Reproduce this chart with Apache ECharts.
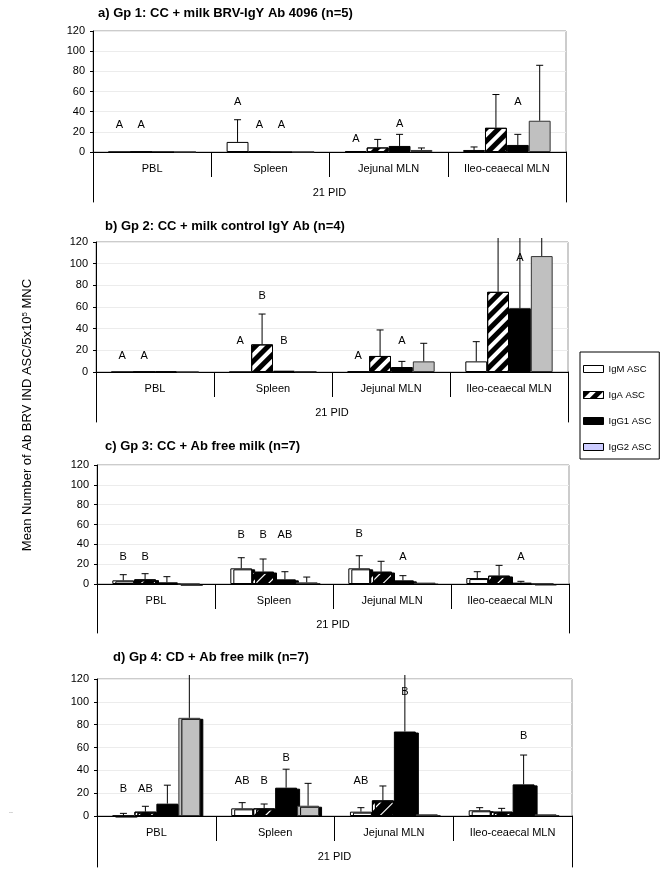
<!DOCTYPE html>
<html><head><meta charset="utf-8">
<script src="https://cdn.jsdelivr.net/npm/echarts@6/dist/echarts.min.js"></script>
<style>html,body{margin:0;padding:0;background:#fff}#c{width:665px;height:876px}</style>
</head><body><div id="c"></div><script>
// ---------- data ----------
const categories = ['PBL', 'Spleen', 'Jejunal MLN', 'Ileo-ceaecal MLN'];
const seriesNames = ['IgM ASC', 'IgA ASC', 'IgG1 ASC', 'IgG2 ASC'];
const yMin = 0, yMax = 120, yInterval = 20;
const xGroupLabel = '21 PID';
const yTitle = 'Mean Number of Ab BRV IND ASC/5x10{sup|5} MNC';

// a) Gp 1
const titleA = 'a) Gp 1: CC + milk BRV-IgY Ab 4096 (n=5)';
const gp1IgM  = [0, 10, 1, 2];
const gp1IgA  = [0, 0, 4.5, 24];
const gp1IgG1 = [0, 0, 6, 7];
const gp1IgG2 = [0, 0, 2, 31];
// mean + SD (upper end of error bar); null = none; >120 = off scale
const gp1IgMErr  = [null, 32, null, 5];
const gp1IgAErr  = [null, null, 12.5, 57];
const gp1IgG1Err = [null, null, 17.5, 17.5];
const gp1IgG2Err = [null, null, 4, 86];
// [category, bar, height, letter]
const gp1Letters = [[0,0,27,'A'],[0,1,27,'A'],[1,0,50,'A'],[1,1,27,'A'],[1,2,27,'A'],[2,0,12.5,'A'],[2,2,27.5,'A'],[3,2,50,'A']];

// b) Gp 2
const titleB = 'b) Gp 2: CC + milk control IgY Ab (n=4)';
const gp2IgM  = [0, 0, 0.5, 9.8];
const gp2IgA  = [0, 25.5, 14.8, 74];
const gp2IgG1 = [0.5, 1.2, 4.6, 58.8];
const gp2IgG2 = [0, 0.5, 9.8, 107];
const gp2IgMErr  = [null, null, null, 28];
const gp2IgAErr  = [null, 53.5, 38.8, 140];
const gp2IgG1Err = [null, null, 9.8, 140];
const gp2IgG2Err = [null, null, 26.5, 140];
const gp2Letters = [[0,0,14.8,'A'],[0,1,14.8,'A'],[1,0,28.6,'A'],[1,1,70,'B'],[1,2,28.6,'B'],[2,0,14.8,'A'],[2,2,29,'A'],[3,2,105,'A']];

// c) Gp 3
const titleC = 'c) Gp 3: CC + Ab free milk (n=7)';
const gp3IgM  = [3.7, 15.8, 15.8, 6];
const gp3IgA  = [4.7, 12.4, 12.4, 8.4];
const gp3IgG1 = [1.7, 4.7, 3.7, 1.4];
const gp3IgG2 = [0, 1.7, 1.4, 0.5];
const gp3IgMErr  = [9.4, 26.5, 28.5, 12.4];
const gp3IgAErr  = [10.4, 25.2, 22.9, 18.8];
const gp3IgG1Err = [7.4, 12.4, 8.4, 2.7];
const gp3IgG2Err = [null, 7, null, null];
const gp3Letters = [[0,0,27,'B'],[0,1,27,'B'],[1,0,49.7,'B'],[1,1,49.7,'B'],[1,2,49.7,'AB'],[2,0,50,'B'],[2,2,27,'A'],[3,2,27,'A']];

// d) Gp 4
const titleD = 'd) Gp 4: CD + Ab free milk (n=7)';
const gp4IgM  = [0.3, 6.7, 3.8, 5];
const gp4IgA  = [3.8, 6.7, 13.7, 3.8];
const gp4IgG1 = [10.8, 24.8, 74, 27.7];
const gp4IgG2 = [86, 9, 1.5, 1.5];
const gp4IgMErr  = [2.3, 11.7, 7.3, 7.3];
const gp4IgAErr  = [8.5, 10.5, 26.3, 6.7];
const gp4IgG1Err = [27, 41, 140, 53.4];
const gp4IgG2Err = [140, 28.6, null, null];
const gp4Letters = [[0,0,24,'B'],[0,1,24,'AB'],[1,0,30.4,'AB'],[1,1,30.4,'B'],[1,2,50.5,'B'],[2,0,30.6,'AB'],[2,2,109,'B'],[3,2,69.8,'B']];

// ---------- layout / style ----------
const FONT = 'Liberation Sans, Arial, sans-serif';
const CAT_GAP = 0.26;
const panels = [
  {title: titleA, vals: [gp1IgM, gp1IgA, gp1IgG1, gp1IgG2], errs: [gp1IgMErr, gp1IgAErr, gp1IgG1Err, gp1IgG2Err], letters: gp1Letters,
   box: {left: 93, top: 31, width: 473, height: 121, ext: 50}, tpos: {left: 98, top: 7}, shadow: false},
  {title: titleB, vals: [gp2IgM, gp2IgA, gp2IgG1, gp2IgG2], errs: [gp2IgMErr, gp2IgAErr, gp2IgG1Err, gp2IgG2Err], letters: gp2Letters,
   box: {left: 96, top: 242, width: 472, height: 130, ext: 50}, tpos: {left: 105, top: 220}, shadow: false},
  {title: titleC, vals: [gp3IgM, gp3IgA, gp3IgG1, gp3IgG2], errs: [gp3IgMErr, gp3IgAErr, gp3IgG1Err, gp3IgG2Err], letters: gp3Letters,
   box: {left: 97, top: 465, width: 472, height: 119, ext: 49}, tpos: {left: 105, top: 440}, shadow: true},
  {title: titleD, vals: [gp4IgM, gp4IgA, gp4IgG1, gp4IgG2], errs: [gp4IgMErr, gp4IgAErr, gp4IgG1Err, gp4IgG2Err], letters: gp4Letters,
   box: {left: 97, top: 679, width: 475, height: 137, ext: 51}, tpos: {left: 113, top: 651}, shadow: true}
];

const barStyles = [
  {color: '#fff', borderColor: '#000', borderWidth: 1},
  {color: '#fff', borderColor: '#000', borderWidth: 1,
   decal: {symbol: 'rect', symbolSize: 1, color: '#000', dashArrayX: [1, 0], dashArrayY: [5, 4], rotation: -Math.PI / 4}},
  {color: '#000', borderColor: '#000', borderWidth: 1},
  {color: '#c0c0c0', borderColor: '#333', borderWidth: 1}
];

function slotX(api, c, s) {
  const p0 = api.coord([c, 0]);
  const bw = api.coord([1, 0])[0] - api.coord([0, 0])[0];
  const inner = bw * (1 - CAT_GAP);
  return p0[0] - inner / 2 + (s + 0.5) * inner / 4;
}
function renderErr(params, api) {
  const c = api.value(0), s = api.value(1), m = api.value(2), t = api.value(3);
  const x = slotX(api, c, s);
  const yb = api.coord([c, m])[1];
  const off = t > yMax;
  const yt = off ? api.coord([c, yMax])[1] - 4 : api.coord([c, t])[1];
  const ch = [{type: 'line', shape: {x1: x, y1: yb, x2: x, y2: yt}, style: {stroke: '#000', lineWidth: 1}}];
  if (!off) ch.push({type: 'line', shape: {x1: x - 3.5, y1: yt, x2: x + 3.5, y2: yt}, style: {stroke: '#000', lineWidth: 1}});
  return {type: 'group', children: ch};
}

const grid = [], xAxis = [], yAxis = [], series = [], title = [];
panels.forEach((p, i) => {
  const b = p.box;
  grid[i] = {left: b.left, top: b.top, width: b.width, height: b.height, show: true, borderColor: '#999', borderWidth: 1, backgroundColor: 'transparent', containLabel: false};
  grid[4 + i] = {left: b.left, top: b.top + b.height, width: b.width, height: b.ext, show: false, containLabel: false};
  title.push({text: p.title, left: p.tpos.left, top: p.tpos.top, padding: 0,
    textStyle: {fontFamily: FONT, fontSize: 13, fontWeight: 'bold', color: '#000'}});
  xAxis[i] = {type: 'category', gridIndex: i, data: categories, boundaryGap: true,
    axisLine: {show: true, lineStyle: {color: '#000', width: 1}},
    axisTick: {show: true, interval: 0, length: 25, lineStyle: {color: '#000'}},
    axisLabel: {show: true, interval: 0, margin: 11, fontFamily: FONT, fontSize: 11, color: '#000'},
    name: xGroupLabel, nameLocation: 'middle', nameGap: 35,
    nameTextStyle: {fontFamily: FONT, fontSize: 11, color: '#000'},
    splitLine: {show: false}};
  xAxis[4 + i] = {type: 'category', gridIndex: 4 + i, data: [xGroupLabel], show: false};
  yAxis[i] = {type: 'value', gridIndex: i, min: yMin, max: yMax, interval: yInterval,
    axisLine: {show: true, lineStyle: {color: '#000', width: 1}},
    axisTick: {show: true, length: 3, lineStyle: {color: '#000'}},
    axisLabel: {margin: 8, fontFamily: FONT, fontSize: 11, color: '#000'},
    splitLine: {show: true, lineStyle: {color: '#ececec', width: 1}}};
  yAxis[4 + 2 * i] = {type: 'value', gridIndex: 4 + i, position: 'left', min: 0, max: 1,
    axisLine: {show: true, lineStyle: {color: '#000'}}, axisTick: {show: false}, axisLabel: {show: false}, splitLine: {show: false}};
  yAxis[5 + 2 * i] = {type: 'value', gridIndex: 4 + i, position: 'right', min: 0, max: 1,
    axisLine: {show: true, lineStyle: {color: '#000'}}, axisTick: {show: false}, axisLabel: {show: false}, splitLine: {show: false}};

  for (let s = 0; s < 4; s++) {
    const st = Object.assign({}, barStyles[s]);
    if (p.shadow) Object.assign(st, {shadowColor: '#000', shadowOffsetX: 3, shadowOffsetY: 1, shadowBlur: 0});
    series.push({name: seriesNames[s], type: 'bar', xAxisIndex: i, yAxisIndex: i, data: p.vals[s],
      barGap: '0%', barCategoryGap: (CAT_GAP * 100) + '%', itemStyle: st, z: 2,
      emphasis: {disabled: true}});
  }
  const errData = [];
  for (let s = 0; s < 4; s++) for (let c = 0; c < 4; c++) {
    if (p.errs[s][c] != null) errData.push([c, s, p.vals[s][c], p.errs[s][c]]);
  }
  series.push({name: 'err' + i, type: 'custom', xAxisIndex: i, yAxisIndex: i, renderItem: renderErr,
    data: errData, encode: {x: 0, y: 3}, clip: false, z: 3, silent: true});
  const letters = p.letters;
  series.push({name: 'let' + i, type: 'custom', xAxisIndex: i, yAxisIndex: i,
    data: letters.map(l => [l[0], l[1], l[2]]), encode: {x: 0, y: 2}, clip: false, z: 4, silent: true,
    renderItem: (params, api) => {
      const c = api.value(0), s = api.value(1), h = api.value(2);
      return {type: 'text', x: slotX(api, c, s), y: api.coord([c, h])[1],
        style: {text: letters[params.dataIndex][3], fill: '#000', font: '11px ' + FONT, align: 'center', verticalAlign: 'middle'}};
    }});
});

const chart = echarts.init(document.getElementById('c'), null, {renderer: 'canvas'});
chart.setOption({
  animation: false,
  backgroundColor: '#fff',
  title: title,
  grid: grid, xAxis: xAxis, yAxis: yAxis, series: series,
  legend: {orient: 'vertical', left: 580, top: 352, icon: 'rect', itemWidth: 20, itemHeight: 7, itemGap: 16,
    padding: [12, 8, 7, 3], borderColor: '#000', borderWidth: 1, backgroundColor: '#fff', selectedMode: false,
    itemStyle: {borderColor: '#000', borderWidth: 1, shadowBlur: 0, shadowOffsetX: 0, shadowOffsetY: 0, shadowColor: 'transparent'},
    textStyle: {fontFamily: FONT, fontSize: 9.5, color: '#000'},
    data: [{name: seriesNames[0]}, {name: seriesNames[1]}, {name: seriesNames[2]},
      {name: seriesNames[3], itemStyle: {color: '#ccccff', borderColor: '#000', borderWidth: 1}}]},
  graphic: [
    {type: 'text', x: 27, y: 415, rotation: Math.PI / 2,
     style: {text: yTitle, fill: '#000', font: '13px ' + FONT, align: 'center', verticalAlign: 'middle',
       rich: {sup: {fontSize: 8, fontFamily: FONT, verticalAlign: 'top', fill: '#000'}}}},
    {type: 'text', x: 11, y: 811, style: {text: '..', fill: '#666', font: '7px ' + FONT, align: 'center', verticalAlign: 'middle'}}
  ]
});
</script></body></html>
